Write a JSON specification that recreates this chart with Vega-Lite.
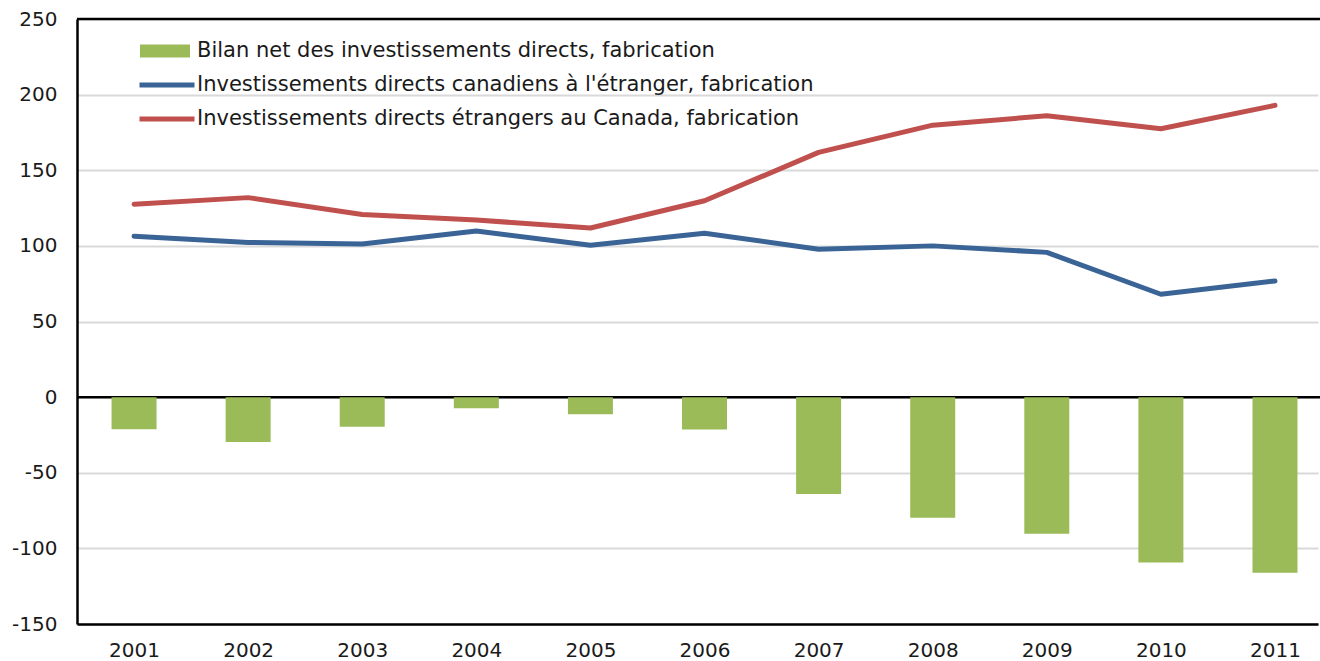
{
  "$schema": "https://vega.github.io/schema/vega-lite/v6.json",
  "width": 1241,
  "height": 605,
  "autosize": {"type": "none"},
  "padding": {"left": 77, "top": 19, "right": 2, "bottom": 37},
  "background": "white",
  "config": {
    "font": "DejaVu Sans",
    "view": {"stroke": null}
  },
  "datasets": {
    "bars": [
      {"year": 2001, "value": -21.2, "series": "Bilan net des investissements directs, fabrication"},
      {"year": 2002, "value": -29.6, "series": "Bilan net des investissements directs, fabrication"},
      {"year": 2003, "value": -19.6, "series": "Bilan net des investissements directs, fabrication"},
      {"year": 2004, "value": -7.3, "series": "Bilan net des investissements directs, fabrication"},
      {"year": 2005, "value": -11.4, "series": "Bilan net des investissements directs, fabrication"},
      {"year": 2006, "value": -21.4, "series": "Bilan net des investissements directs, fabrication"},
      {"year": 2007, "value": -64.0, "series": "Bilan net des investissements directs, fabrication"},
      {"year": 2008, "value": -79.8, "series": "Bilan net des investissements directs, fabrication"},
      {"year": 2009, "value": -90.3, "series": "Bilan net des investissements directs, fabrication"},
      {"year": 2010, "value": -109.4, "series": "Bilan net des investissements directs, fabrication"},
      {"year": 2011, "value": -116.1, "series": "Bilan net des investissements directs, fabrication"}
    ],
    "lines": [
      {"year": 2001, "value": 106.4, "series": "Investissements directs canadiens à l'étranger, fabrication"},
      {"year": 2002, "value": 102.3, "series": "Investissements directs canadiens à l'étranger, fabrication"},
      {"year": 2003, "value": 101.2, "series": "Investissements directs canadiens à l'étranger, fabrication"},
      {"year": 2004, "value": 109.8, "series": "Investissements directs canadiens à l'étranger, fabrication"},
      {"year": 2005, "value": 100.4, "series": "Investissements directs canadiens à l'étranger, fabrication"},
      {"year": 2006, "value": 108.4, "series": "Investissements directs canadiens à l'étranger, fabrication"},
      {"year": 2007, "value": 97.8, "series": "Investissements directs canadiens à l'étranger, fabrication"},
      {"year": 2008, "value": 100.0, "series": "Investissements directs canadiens à l'étranger, fabrication"},
      {"year": 2009, "value": 95.7, "series": "Investissements directs canadiens à l'étranger, fabrication"},
      {"year": 2010, "value": 68.0, "series": "Investissements directs canadiens à l'étranger, fabrication"},
      {"year": 2011, "value": 76.8, "series": "Investissements directs canadiens à l'étranger, fabrication"},
      {"year": 2001, "value": 127.6, "series": "Investissements directs étrangers au Canada, fabrication"},
      {"year": 2002, "value": 131.9, "series": "Investissements directs étrangers au Canada, fabrication"},
      {"year": 2003, "value": 120.8, "series": "Investissements directs étrangers au Canada, fabrication"},
      {"year": 2004, "value": 117.1, "series": "Investissements directs étrangers au Canada, fabrication"},
      {"year": 2005, "value": 111.8, "series": "Investissements directs étrangers au Canada, fabrication"},
      {"year": 2006, "value": 129.8, "series": "Investissements directs étrangers au Canada, fabrication"},
      {"year": 2007, "value": 161.8, "series": "Investissements directs étrangers au Canada, fabrication"},
      {"year": 2008, "value": 179.8, "series": "Investissements directs étrangers au Canada, fabrication"},
      {"year": 2009, "value": 186.0, "series": "Investissements directs étrangers au Canada, fabrication"},
      {"year": 2010, "value": 177.4, "series": "Investissements directs étrangers au Canada, fabrication"},
      {"year": 2011, "value": 192.9, "series": "Investissements directs étrangers au Canada, fabrication"}
    ],
    "zero": [{"value": 0}]
  },
  "encoding": {
    "x": {
      "field": "year", "type": "quantitative",
      "scale": {"domain": [2000.5, 2011.377], "nice": false, "zero": false, "padding": 0},
      "axis": {"title": null, "values": [2001, 2002, 2003, 2004, 2005, 2006, 2007, 2008, 2009, 2010, 2011], "format": "d", "labelAngle": 0, "ticks": false, "domain": true, "domainColor": "black", "domainWidth": 2.5, "labelPadding": 16, "grid": false, "labelFontSize": 20, "labelFont": "DejaVu Sans", "labelColor": "#1a1a1a", "labelFlush": false, "labelOverlap": false}
    },
    "y": {
      "field": "value", "type": "quantitative",
      "scale": {"domain": [-150, 250], "nice": false, "zero": false},
      "axis": {"title": null, "values": [-150, -100, -50, 0, 50, 100, 150, 200, 250], "labelExpr": "'' + datum.value", "ticks": false, "domain": true, "domainColor": "black", "domainWidth": 2.5, "labelPadding": 20, "grid": true, "gridColor": "#d9d9d9", "gridWidth": 2, "labelFontSize": 20, "labelFont": "DejaVu Sans", "labelColor": "#1a1a1a", "labelFlush": false, "labelOverlap": false}
    }
  },
  "layer": [
    {
      "data": {"name": "zero"},
      "mark": {"type": "rule", "x": 0, "x2": 1243, "stroke": "black", "strokeWidth": 2.5},
      "encoding": {"y": {"field": "value", "type": "quantitative"}, "x": null}
    },
    {
      "data": {"name": "zero"},
      "mark": {"type": "rule", "x": 0, "x2": 1243, "stroke": "black", "strokeWidth": 2.5},
      "encoding": {"y": {"datum": 250, "type": "quantitative"}, "x": null}
    },
    {
      "data": {"name": "bars"},
      "mark": {"type": "bar", "width": 45},
      "encoding": {
        "y2": {"datum": 0},
        "fill": {
          "field": "series", "type": "nominal",
          "scale": {"range": ["#9BBB59"]},
          "legend": {
            "title": null, "orient": "none", "legendX": 63, "legendY": 22,
            "symbolType": "M-1,-0.26H1V0.26H-1Z", "symbolSize": 2500, "symbolStrokeWidth": 0, "symbolOpacity": 1,
            "labelFontSize": 21, "labelFont": "DejaVu Sans", "labelColor": "#1a1a1a", "labelOffset": 7, "labelLimit": 1000, "padding": 0, "clipHeight": 20
          }
        }
      }
    },
    {
      "data": {"name": "lines"},
      "mark": {"type": "line", "strokeWidth": 5, "strokeCap": "round", "strokeJoin": "round"},
      "encoding": {
        "stroke": {
          "field": "series", "type": "nominal",
          "scale": {"domain": ["Investissements directs canadiens à l'étranger, fabrication", "Investissements directs étrangers au Canada, fabrication"], "range": ["#3B6496", "#C0504D"]},
          "legend": {
            "title": null, "orient": "none", "legendX": 60, "legendY": 56,
            "symbolType": "stroke", "symbolSize": 3025, "symbolStrokeWidth": 5,
            "labelFontSize": 21, "labelFont": "DejaVu Sans", "labelColor": "#1a1a1a", "labelOffset": 0, "labelLimit": 1000, "padding": 0, "clipHeight": 20, "rowPadding": 13
          }
        }
      }
    }
  ]
}
